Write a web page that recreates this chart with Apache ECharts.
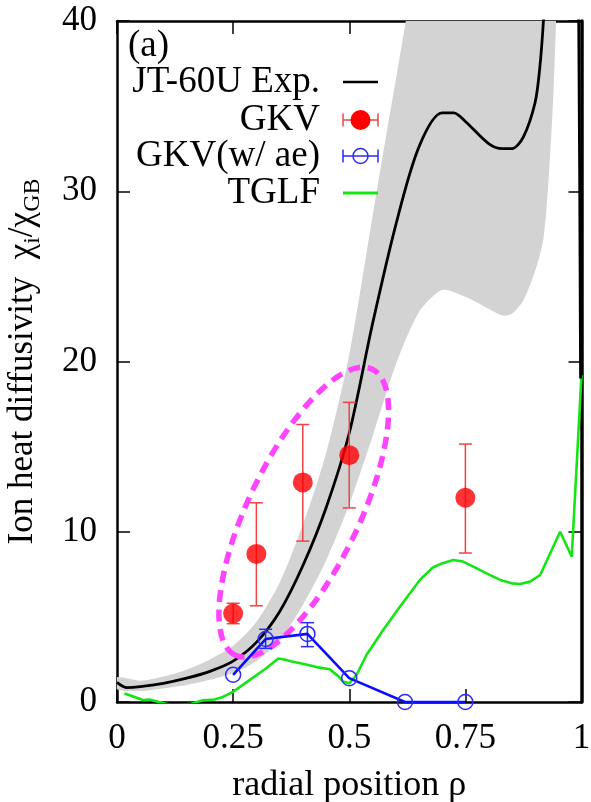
<!DOCTYPE html>
<html><head><meta charset="utf-8">
<script src="https://cdn.jsdelivr.net/npm/echarts@6/dist/echarts.min.js"></script>
<style>html,body{margin:0;padding:0;background:#fff}#c{width:591px;height:802px}</style>
</head><body><div id="c"></div>
<script>
const FONT = '"Liberation Serif", "Times New Roman", serif';

// x / y ticks
const xTicks = [0, 0.25, 0.5, 0.75, 1];
const yTicks = [0, 10, 20, 30, 40];

// JT-60U experimental curve
const expRho = [0, 0.02, 0.05, 0.1, 0.15, 0.2, 0.25, 0.3, 0.35, 0.4, 0.45, 0.5, 0.55, 0.6, 0.65, 0.7, 0.725, 0.75, 0.8, 0.83, 0.85, 0.875, 0.9, 0.91, 0.918, 0.93, 0.99, 0.994, 0.998];
const expVal = [1.15, 0.85, 0.9, 1.1, 1.4, 1.8, 2.4, 3.5, 5.3, 8.0, 11.4, 15.8, 22.2, 28.0, 32.6, 34.6, 34.6, 34.1, 32.8, 32.5, 32.5, 33.2, 35.2, 37.2, 40.0, 46, 46, 40, 19];

// experimental uncertainty band
const bandRho   = [0, 0.05, 0.1, 0.15, 0.2, 0.25, 0.3, 0.35, 0.4, 0.45, 0.5, 0.55, 0.6, 0.65, 0.7, 0.75, 0.8, 0.83, 0.85, 0.875, 0.9, 0.918, 0.93, 0.94, 0.947];
const bandUpper = [1.45, 1.25, 1.5, 1.9, 2.5, 3.3, 4.7, 7.0, 10.4, 14.6, 20.4, 28.5, 36.5, 44, 48, 48, 48, 48, 48, 48, 48, 48, 48, 48, 48];
const bandLower = [0.75, 0.65, 0.8, 1.0, 1.3, 1.7, 2.4, 3.6, 5.7, 8.3, 11.6, 15.6, 19.8, 22.9, 24.2, 23.8, 23.1, 22.7, 22.8, 23.6, 25.3, 27.2, 31, 36, 42];

// GKV
const gkvRho  = [0.25, 0.30, 0.40, 0.50, 0.75];
const gkvVal  = [5.2, 8.7, 12.9, 14.5, 12.0];
const gkvLow  = [4.6, 5.65, 9.45, 11.4, 8.75];
const gkvHigh = [5.8, 11.7, 16.3, 17.6, 15.15];

// GKV (w/ ae)
const aeRho = [0.25, 0.32, 0.41, 0.50, 0.62, 0.75];
const aeVal = [1.6, 3.7, 4.0, 1.4, 0.0, 0.0];
const aeErrRho  = [0.32, 0.41];
const aeErrLow  = [3.15, 3.25];
const aeErrHigh = [4.27, 4.66];

// TGLF
const tglfRho = [0.016, 0.035, 0.056, 0.07, 0.08, 0.09, 0.12, 0.16, 0.185, 0.21, 0.228, 0.25, 0.286, 0.322, 0.347, 0.36, 0.379, 0.40, 0.43, 0.458, 0.475, 0.487, 0.5, 0.516, 0.537, 0.573, 0.609, 0.652, 0.68, 0.696, 0.724, 0.745, 0.767, 0.8, 0.825, 0.85, 0.868, 0.889, 0.911, 0.954, 0.979, 1.0];
const tglfVal = [0.5, 0.32, 0.12, 0.15, 0.08, 0.0, -0.2, -0.1, 0.1, 0.15, 0.3, 0.6, 1.3, 2.0, 2.56, 2.5, 2.37, 2.25, 2.05, 1.92, 1.55, 1.2, 1.1, 1.6, 2.76, 4.23, 5.6, 7.17, 7.9, 8.1, 8.34, 8.25, 7.95, 7.5, 7.17, 6.97, 6.93, 7.07, 7.46, 10.0, 8.53, 19.2];

// annotation ellipse centre (data coords)
const ellipseCenter = [[0.402, 11.15]];

const labels = ['(a)', 'JT-60U Exp.', 'GKV', 'GKV(w/ ae)', 'TGLF'];

const zip = (a, b) => a.map((v, i) => [v, b[i]]);
const zip3 = (a, b, c) => a.map((v, i) => [v, b[i], c[i]]);

const chart = echarts.init(document.getElementById('c'), null, {renderer: 'canvas'});

function errBar(color, cap) {
  return function (params, api) {
    const x = api.value(0);
    const p1 = api.coord([x, api.value(1)]);
    const p2 = api.coord([x, api.value(2)]);
    const st = {stroke: color, lineWidth: 1.5};
    return {type: 'group', children: [
      {type: 'line', shape: {x1: p1[0], y1: p1[1], x2: p2[0], y2: p2[1]}, style: st},
      {type: 'line', shape: {x1: p1[0] - cap, y1: p1[1], x2: p1[0] + cap, y2: p1[1]}, style: st},
      {type: 'line', shape: {x1: p2[0] - cap, y1: p2[1], x2: p2[0] + cap, y2: p2[1]}, style: st}
    ]};
  };
}

const axisCommon = {
  type: 'value',
  splitLine: {show: false},
  axisLine: {show: true, onZero: false, lineStyle: {color: '#000', width: 2.5}},
  axisTick: {show: true, inside: true, length: 13, lineStyle: {color: '#000', width: 1.5}}
};
const labelStyle = {fontFamily: FONT, fontSize: 35, color: '#000'};

const legX1 = 343, legX2 = 378, legXc = 360.5, legTextX = 320;
const legY = [82, 120, 156, 193];
function legText(t, x, y, align) {
  return {type: 'text', x: x, y: y, z: 100,
    style: {text: t, font: '37px ' + FONT, fill: '#000', align: align, verticalAlign: 'middle', textAlign: align, textVerticalAlign: 'middle'}};
}
function hline(x1, x2, y, color, w) {
  return {type: 'line', z: 100, shape: {x1: x1, y1: y, x2: x2, y2: y}, style: {stroke: color, lineWidth: w}};
}
function vline(x, y1, y2, color, w) {
  return {type: 'line', z: 100, shape: {x1: x, y1: y1, x2: x, y2: y2}, style: {stroke: color, lineWidth: w}};
}

const option = {
  animation: false,
  backgroundColor: '#fff',
  grid: {left: 117, right: 9.5, top: 21, bottom: 100, containLabel: false, outerBoundsMode: 'none'},
  xAxis: [
    Object.assign({}, axisCommon, {
      min: xTicks[0], max: xTicks[xTicks.length - 1], interval: xTicks[1] - xTicks[0], position: 'bottom',
      axisLabel: Object.assign({margin: 19, formatter: v => String(v)}, labelStyle),
      name: 'radial position ρ', nameLocation: 'middle', nameGap: 66,
      nameTextStyle: {fontFamily: FONT, fontSize: 36, color: '#000'}
    }),
    Object.assign({}, axisCommon, {
      min: xTicks[0], max: xTicks[xTicks.length - 1], interval: xTicks[1] - xTicks[0], position: 'top',
      axisLabel: {show: false}
    })
  ],
  yAxis: [
    Object.assign({}, axisCommon, {
      min: yTicks[0], max: yTicks[yTicks.length - 1], interval: yTicks[1] - yTicks[0], position: 'left',
      axisLabel: Object.assign({margin: 20}, labelStyle),
      name: '{m|Ion heat diffusivity  χ}{s|i}{m|/χ}{s|GB}', nameLocation: 'middle', nameRotate: 90, nameGap: 72,
      nameTextStyle: {
        rich: {
          m: {fontFamily: FONT, fontSize: 35, lineHeight: 44, color: '#000'},
          s: {fontFamily: FONT, fontSize: 24, lineHeight: 24, color: '#000', verticalAlign: 'bottom'}
        }
      }
    }),
    Object.assign({}, axisCommon, {
      min: yTicks[0], max: yTicks[yTicks.length - 1], interval: yTicks[1] - yTicks[0], position: 'right',
      axisLine: {show: true, onZero: false, lineStyle: {color: '#000', width: 3.5}},
      axisLabel: {show: false}
    })
  ],
  series: [
    {
      name: 'band', type: 'custom', z: 1, silent: true,
      data: [[bandRho[0], bandLower[0]]],
      renderItem: function (params, api) {
        const up = bandRho.map((r, i) => api.coord([r, bandUpper[i]]));
        const lo = bandRho.map((r, i) => api.coord([r, bandLower[i]])).reverse();
        const cs = params.coordSys;
        return {
          type: 'group',
          clipPath: {type: 'rect', shape: {x: cs.x, y: cs.y, width: cs.width, height: cs.height}},
          children: [{
            type: 'polygon', shape: {points: up.concat(lo), smooth: 0.25},
            style: {fill: '#d3d3d3', stroke: 'none'}
          }]
        };
      }
    },
    {
      name: 'TGLF', type: 'line', data: zip(tglfRho, tglfVal), symbol: 'none',
      lineStyle: {color: '#14e614', width: 2.6}, z: 3, clip: true
    },
    {
      name: 'JT-60U Exp.', type: 'line', data: zip(expRho, expVal), symbol: 'none', smooth: 0.3,
      lineStyle: {color: '#000', width: 2.8}, z: 4, clip: true
    },
    {
      name: 'ellipse', type: 'custom', data: ellipseCenter, z: 5, silent: true,
      renderItem: function (params, api) {
        const c = api.coord([api.value(0), api.value(1)]);
        return {
          type: 'ellipse', x: c[0], y: c[1], rotation: 64.4 * Math.PI / 180,
          shape: {cx: 0, cy: 0, rx: 158.5, ry: 55.5},
          style: {fill: 'none', stroke: '#ff44ff', lineWidth: 5.5, lineDash: [12, 7.5]}
        };
      }
    },
    {
      name: 'GKV(w/ ae)', type: 'line', data: zip(aeRho, aeVal), symbol: 'circle', symbolSize: 15,
      lineStyle: {color: '#0b0bff', width: 2.6},
      itemStyle: {color: 'rgba(0,0,0,0)', borderColor: '#2a2aff', borderWidth: 1.5}, z: 6, clip: false
    },
    {
      name: 'aeErr', type: 'custom', data: zip3(aeErrRho, aeErrLow, aeErrHigh), z: 6, silent: true,
      renderItem: errBar('#2a2aff', 6.5)
    },
    {
      name: 'gkvErr', type: 'custom', data: zip3(gkvRho, gkvLow, gkvHigh), z: 7, silent: true,
      renderItem: errBar('#ee4444', 6.5)
    },
    {
      name: 'GKV', type: 'scatter', data: zip(gkvRho, gkvVal), symbol: 'circle', symbolSize: 20,
      itemStyle: {color: '#ff0000'}, z: 8
    }
  ],
  graphic: [
    legText(labels[0], 128, 46, 'left'),
    legText(labels[1], legTextX, legY[0], 'right'),
    legText(labels[2], legTextX, legY[1], 'right'),
    legText(labels[3], legTextX, legY[2], 'right'),
    legText(labels[4], legTextX, legY[3], 'right'),
    hline(legX1, legX2, legY[0], '#000', 2.6),
    hline(legX1, legX2, legY[1], '#ee4444', 1.5),
    vline(legX1, legY[1] - 6.5, legY[1] + 6.5, '#ee4444', 1.5),
    vline(legX2, legY[1] - 6.5, legY[1] + 6.5, '#ee4444', 1.5),
    {type: 'circle', z: 100, shape: {cx: legXc, cy: legY[1], r: 10}, style: {fill: '#ff0000'}},
    hline(legX1, legX2, legY[2], '#2a2aff', 1.5),
    vline(legX1, legY[2] - 6.5, legY[2] + 6.5, '#2a2aff', 1.5),
    vline(legX2, legY[2] - 6.5, legY[2] + 6.5, '#2a2aff', 1.5),
    {type: 'circle', z: 100, shape: {cx: legXc, cy: legY[2], r: 7.5}, style: {fill: 'none', stroke: '#2a2aff', lineWidth: 1.5}},
    hline(legX1, legX2, legY[3], '#14e614', 3)
  ]
};
chart.setOption(option);
</script>
</body></html>
